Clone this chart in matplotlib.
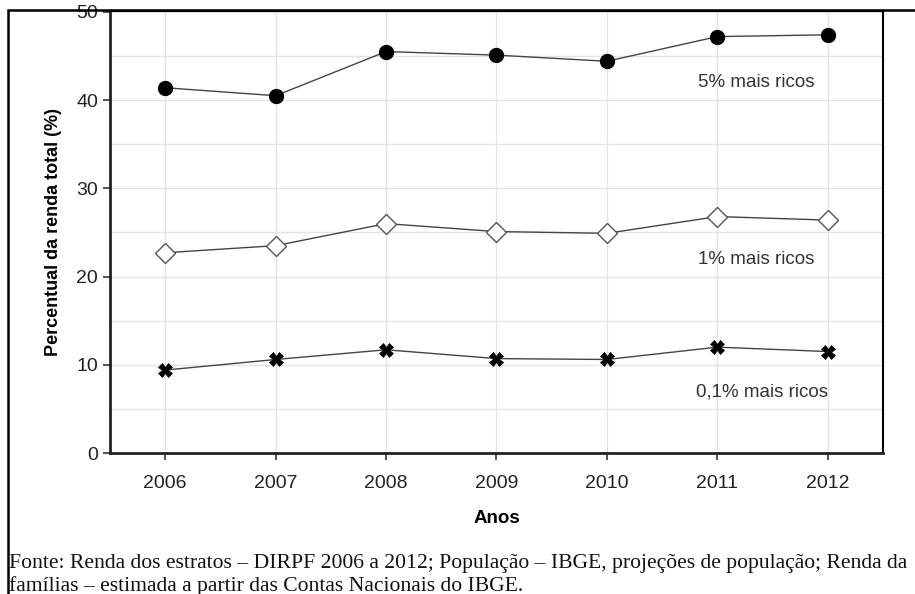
"""
  Percentual da renda total apropriada pelos mais ricos, 2006-2012
"""
import matplotlib
matplotlib.use('Agg')
import matplotlib.pyplot as plt
from matplotlib.patches import Rectangle

anos = [2006, 2007, 2008, 2009, 2010, 2011, 2012]
ricos_5 = [41.4, 40.5, 45.5, 45.1, 44.4, 47.2, 47.4]
ricos_1 = [22.7, 23.5, 26.0, 25.1, 24.9, 26.8, 26.4]
ricos_01 = [9.4, 10.6, 11.7, 10.7, 10.6, 12.0, 11.5]
rotulos = ['5% mais ricos', '1% mais ricos', '0,1% mais ricos']
fonte1 = ('Fonte: Renda dos estratos \u2013 DIRPF 2006 a 2012; Popula\u00e7\u00e3o \u2013 IBGE, '
          'proje\u00e7\u00f5es de popula\u00e7\u00e3o; Renda da')
fonte2 = 'fam\u00edlias \u2013 estimada a partir das Contas Nacionais do IBGE.'

plt.rcParams['font.family'] = ['Liberation Sans', 'DejaVu Sans']

W, H = 915, 594
fig = plt.figure(figsize=(W/100, H/100), dpi=100)
ax = fig.add_axes([110/W, 1-453/H, (883-110)/W, (453-11)/H])

# outer frame
fig.patches.append(Rectangle((8/W, -0.1), 1.2, 1-10/H+0.1, transform=fig.transFigure,
                             fill=False, edgecolor='black', lw=1.8, clip_on=False))

ax.plot(anos, ricos_5, color='#444444', lw=1, marker='o', ms=10,
        mfc='black', mec='black', zorder=3)
ax.plot(anos, ricos_1, color='#444444', lw=1, marker='D', ms=10.5,
        mfc='white', mec='#555555', mew=1, zorder=3)
ax.plot(anos, ricos_01, color='#444444', lw=1, marker='X', ms=10,
        mfc='black', mec='black', mew=0.5, zorder=3)

ax.text(2011.35, 42.0, rotulos[0], fontsize=13.5, color='#333333', ha='center', va='center')
ax.text(2011.35, 21.9, rotulos[1], fontsize=13.5, color='#333333', ha='center', va='center')
ax.text(2011.4, 6.9, rotulos[2], fontsize=13.5, color='#333333', ha='center', va='center')

ax.set_xlim(2005.5, 2012.5)
ax.set_ylim(0, 50.1)
ax.set_xticks(anos)
ax.set_yticks([0, 10, 20, 30, 40, 50])
ax.set_yticks([5, 15, 25, 35, 45], minor=True)
ax.tick_params(axis='both', which='major', labelsize=14, length=5, width=1.2,
               color='#333333', labelcolor='#222222')
ax.tick_params(axis='x', which='major', pad=11)
ax.tick_params(axis='y', which='minor', length=0)
ax.grid(True, which='both', color='#e4e4e4', lw=1)
ax.set_axisbelow(True)

for s in ['left', 'bottom']:
    ax.spines[s].set_linewidth(2)
    ax.spines[s].set_color('#222222')
for s in ['top', 'right']:
    ax.spines[s].set_linewidth(1.5)
    ax.spines[s].set_color('black')

ax.set_ylabel('Percentual da renda total (%)', fontsize=13, fontweight='bold', labelpad=10)
ax.set_xlabel('Anos', fontsize=13.5, fontweight='bold', labelpad=13)

serif = ['Liberation Serif', 'DejaVu Serif']
fig.text(9/W, 1-568/H, fonte1, fontsize=15.6, family=serif, ha='left', va='baseline',
         color='#111111')
fig.text(9/W, 1-591/H, fonte2, fontsize=15.6, family=serif, ha='left', va='baseline',
         color='#111111')

plt.savefig('out.png', dpi=100)
